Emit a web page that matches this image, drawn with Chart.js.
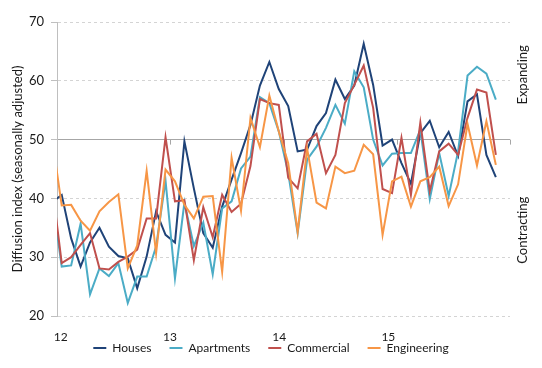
<!DOCTYPE html>
<html>
<head>
<meta charset="utf-8">
<script src="https://cdn.jsdelivr.net/npm/chart.js@4.4.1/dist/chart.umd.min.js"></script>
<style>
  html, body { margin: 0; padding: 0; background: #ffffff; }
  #wrap { width: 542px; height: 368px; }
</style>
</head>
<body>
<div id="wrap"><canvas id="c" width="542" height="368"></canvas></div>
<script>
// ---- data (monthly diffusion index readings) ----
const seriesNames = ['Houses', 'Apartments', 'Commercial', 'Engineering'];
const houses = [39.4, 40.6, 33.2, 28.4, 32.5, 35.0, 31.8, 30.2, 29.8, 24.7, 30.1, 37.8,
                33.8, 32.5, 49.7, 41.7, 34.1, 31.6, 38.6, 43.2, 47.7, 52.5, 59.2, 63.2,
                58.6, 55.7, 48.0, 48.3, 52.3, 54.5, 60.2, 56.9, 59.2, 66.3, 59.3, 49.0,
                50.0, 46.0, 42.5, 51.1, 53.2, 48.7, 51.3, 47.2, 56.5, 57.7, 47.4, 43.6];
const apartments = [40.0, 28.4, 28.6, 35.7, 23.7, 28.1, 26.8, 29.0, 22.2, 26.7, 26.7, 31.8,
                    43.0, 26.4, 39.3, 31.9, 35.9, 27.1, 38.3, 39.5, 45.1, 47.1, 57.2, 56.2,
                    51.4, 44.3, 34.1, 46.6, 48.8, 52.0, 55.9, 52.7, 61.6, 58.9, 50.0, 45.6,
                    47.6, 47.7, 47.7, 51.7, 39.9, 47.7, 40.4, 48.0, 60.9, 62.4, 61.2, 56.8];
const commercial = [42.0, 29.0, 30.0, 32.1, 34.1, 28.1, 27.9, 29.2, 30.1, 31.3, 36.6, 36.6,
                    50.4, 39.5, 39.7, 29.5, 38.5, 33.4, 40.6, 37.7, 39.1, 45.5, 56.9, 56.2,
                    55.9, 43.5, 41.7, 49.7, 51.0, 44.3, 47.4, 56.2, 59.3, 62.6, 55.4, 41.6,
                    40.9, 50.3, 40.6, 52.9, 41.2, 48.0, 49.3, 47.4, 53.7, 58.5, 58.0, 47.4];
const engineering = [50.0, 38.8, 38.9, 36.2, 34.5, 37.8, 39.4, 40.7, 28.1, 32.0, 44.7, 30.7,
                     44.9, 42.9, 38.9, 36.6, 40.3, 40.4, 27.5, 46.9, 37.9, 53.7, 48.7, 57.5,
                     51.4, 46.0, 34.3, 48.5, 39.3, 38.3, 45.4, 44.3, 44.7, 49.1, 47.5, 33.8,
                     42.9, 43.7, 38.6, 42.9, 43.6, 45.4, 38.7, 42.4, 52.7, 45.6, 53.1, 45.7];
const yearLabels = ['12', '13', '14', '15'];
const yTicks = [20, 30, 40, 50, 60, 70];
const sideLabels = ['Expanding', 'Contracting'];

// ---- styling ----
const colors = ['#1F4378', '#4BACC6', '#C0504D', '#F79646'];
const seriesData = [houses, apartments, commercial, engineering];
const FONT = 'Lato, "Open Sans", "Liberation Sans", sans-serif';

// monthly observations are plotted mid-month on a month axis
const toPoints = arr => arr.map((v, i) => ({ x: i - 0.5, y: v }));

const datasets = seriesData.map((arr, i) => ({
  label: seriesNames[i],
  data: toPoints(arr),
  borderColor: colors[i],
  backgroundColor: colors[i],
  borderWidth: 2,
  pointRadius: 0,
  pointHoverRadius: 0,
  tension: 0,
  fill: false,
  clip: 0,
  order: seriesData.length - i
}));

const sideLabelPlugin = {
  id: 'sideLabels',
  beforeDatasetsDraw(chart) {
    const { ctx, scales: { x, y } } = chart;
    const y50 = y.getPixelForValue(50);
    ctx.save();
    ctx.strokeStyle = '#A6A6A6';
    ctx.lineWidth = 1;
    [12, 24, 36, 48].forEach(m => {
      const px = Math.round(x.getPixelForValue(m)) + 0.5;
      ctx.beginPath();
      ctx.moveTo(px, y50);
      ctx.lineTo(px, y50 + 5);
      ctx.stroke();
    });
    ctx.restore();
  },
  afterDraw(chart) {
    const { ctx, scales: { y }, chartArea } = chart;
    ctx.save();
    ctx.fillStyle = '#1a1a1a';
    ctx.font = '13px ' + FONT;
    ctx.textAlign = 'center';
    ctx.textBaseline = 'middle';
    const cx = chartArea.right + 13;
    [[sideLabels[0], 61], [sideLabels[1], 34.6]].forEach(([t, v]) => {
      ctx.save();
      ctx.translate(cx, y.getPixelForValue(v));
      ctx.rotate(-Math.PI / 2);
      ctx.fillText(t, 0, 0);
      ctx.restore();
    });
    ctx.restore();
  }
};

new Chart(document.getElementById('c'), {
  type: 'line',
  data: { datasets },
  plugins: [sideLabelPlugin],
  options: {
    responsive: false,
    animation: false,
    devicePixelRatio: 1,
    layout: { padding: { top: 22, left: 0, right: 0, bottom: 4 } },
    plugins: {
      tooltip: { enabled: false },
      legend: {
        position: 'bottom',
        labels: {
          usePointStyle: true,
          pointStyle: 'line',
          pointStyleWidth: 13,
          padding: 18,
          color: '#1a1a1a',
          font: { family: FONT, size: 12 },
          sort: (a, b) => a.datasetIndex - b.datasetIndex
        }
      }
    },
    scales: {
      x: {
        type: 'linear',
        min: 0,
        max: 48,
        afterBuildTicks: s => { s.ticks = yearLabels.map((_, i) => ({ value: 0.4 + i * 11.57 })); },
        afterFit: s => { s.height = 8; },
        grid: { display: false, drawTicks: false },
        border: { display: false },
        ticks: {
          autoSkip: false,
          maxRotation: 0,
          mirror: true,
          padding: -28,
          color: '#1a1a1a',
          font: { family: FONT, size: 12 },
          callback: (v, i) => yearLabels[i]
        }
      },
      y: {
        type: 'linear',
        min: 20,
        max: 70,
        afterBuildTicks: s => { s.ticks = yTicks.map(v => ({ value: v })); },
        afterFit: s => { s.width = 57; },
        ticks: {
          padding: 7,
          color: '#1a1a1a',
          font: { family: FONT, size: 13 }
        },
        grid: {
          color: ctx => (ctx.tick && ctx.tick.value === 50) ? '#A6A6A6' : '#D4D4D4',
          lineWidth: 1,
          drawTicks: true,
          tickLength: 6,
          tickColor: '#BFBFBF',
          tickBorderDash: []
        },
        border: {
          display: true,
          color: '#BFBFBF',
          dash: ctx => (ctx.type === 'tick' && ctx.tick && ctx.tick.value !== 50) ? [3, 3] : []
        },
        title: {
          display: true,
          text: 'Diffusion index (seasonally adjusted)',
          color: '#1a1a1a',
          font: { family: FONT, size: 13 },
          padding: { top: 10, bottom: 0 }
        }
      },
      yR: {
        type: 'linear',
        position: 'right',
        display: true,
        afterFit: s => { s.width = 32; },
        grid: { display: false, drawTicks: false },
        border: { display: false },
        ticks: { display: false }
      }
    }
  }
});
</script>
</body>
</html>
